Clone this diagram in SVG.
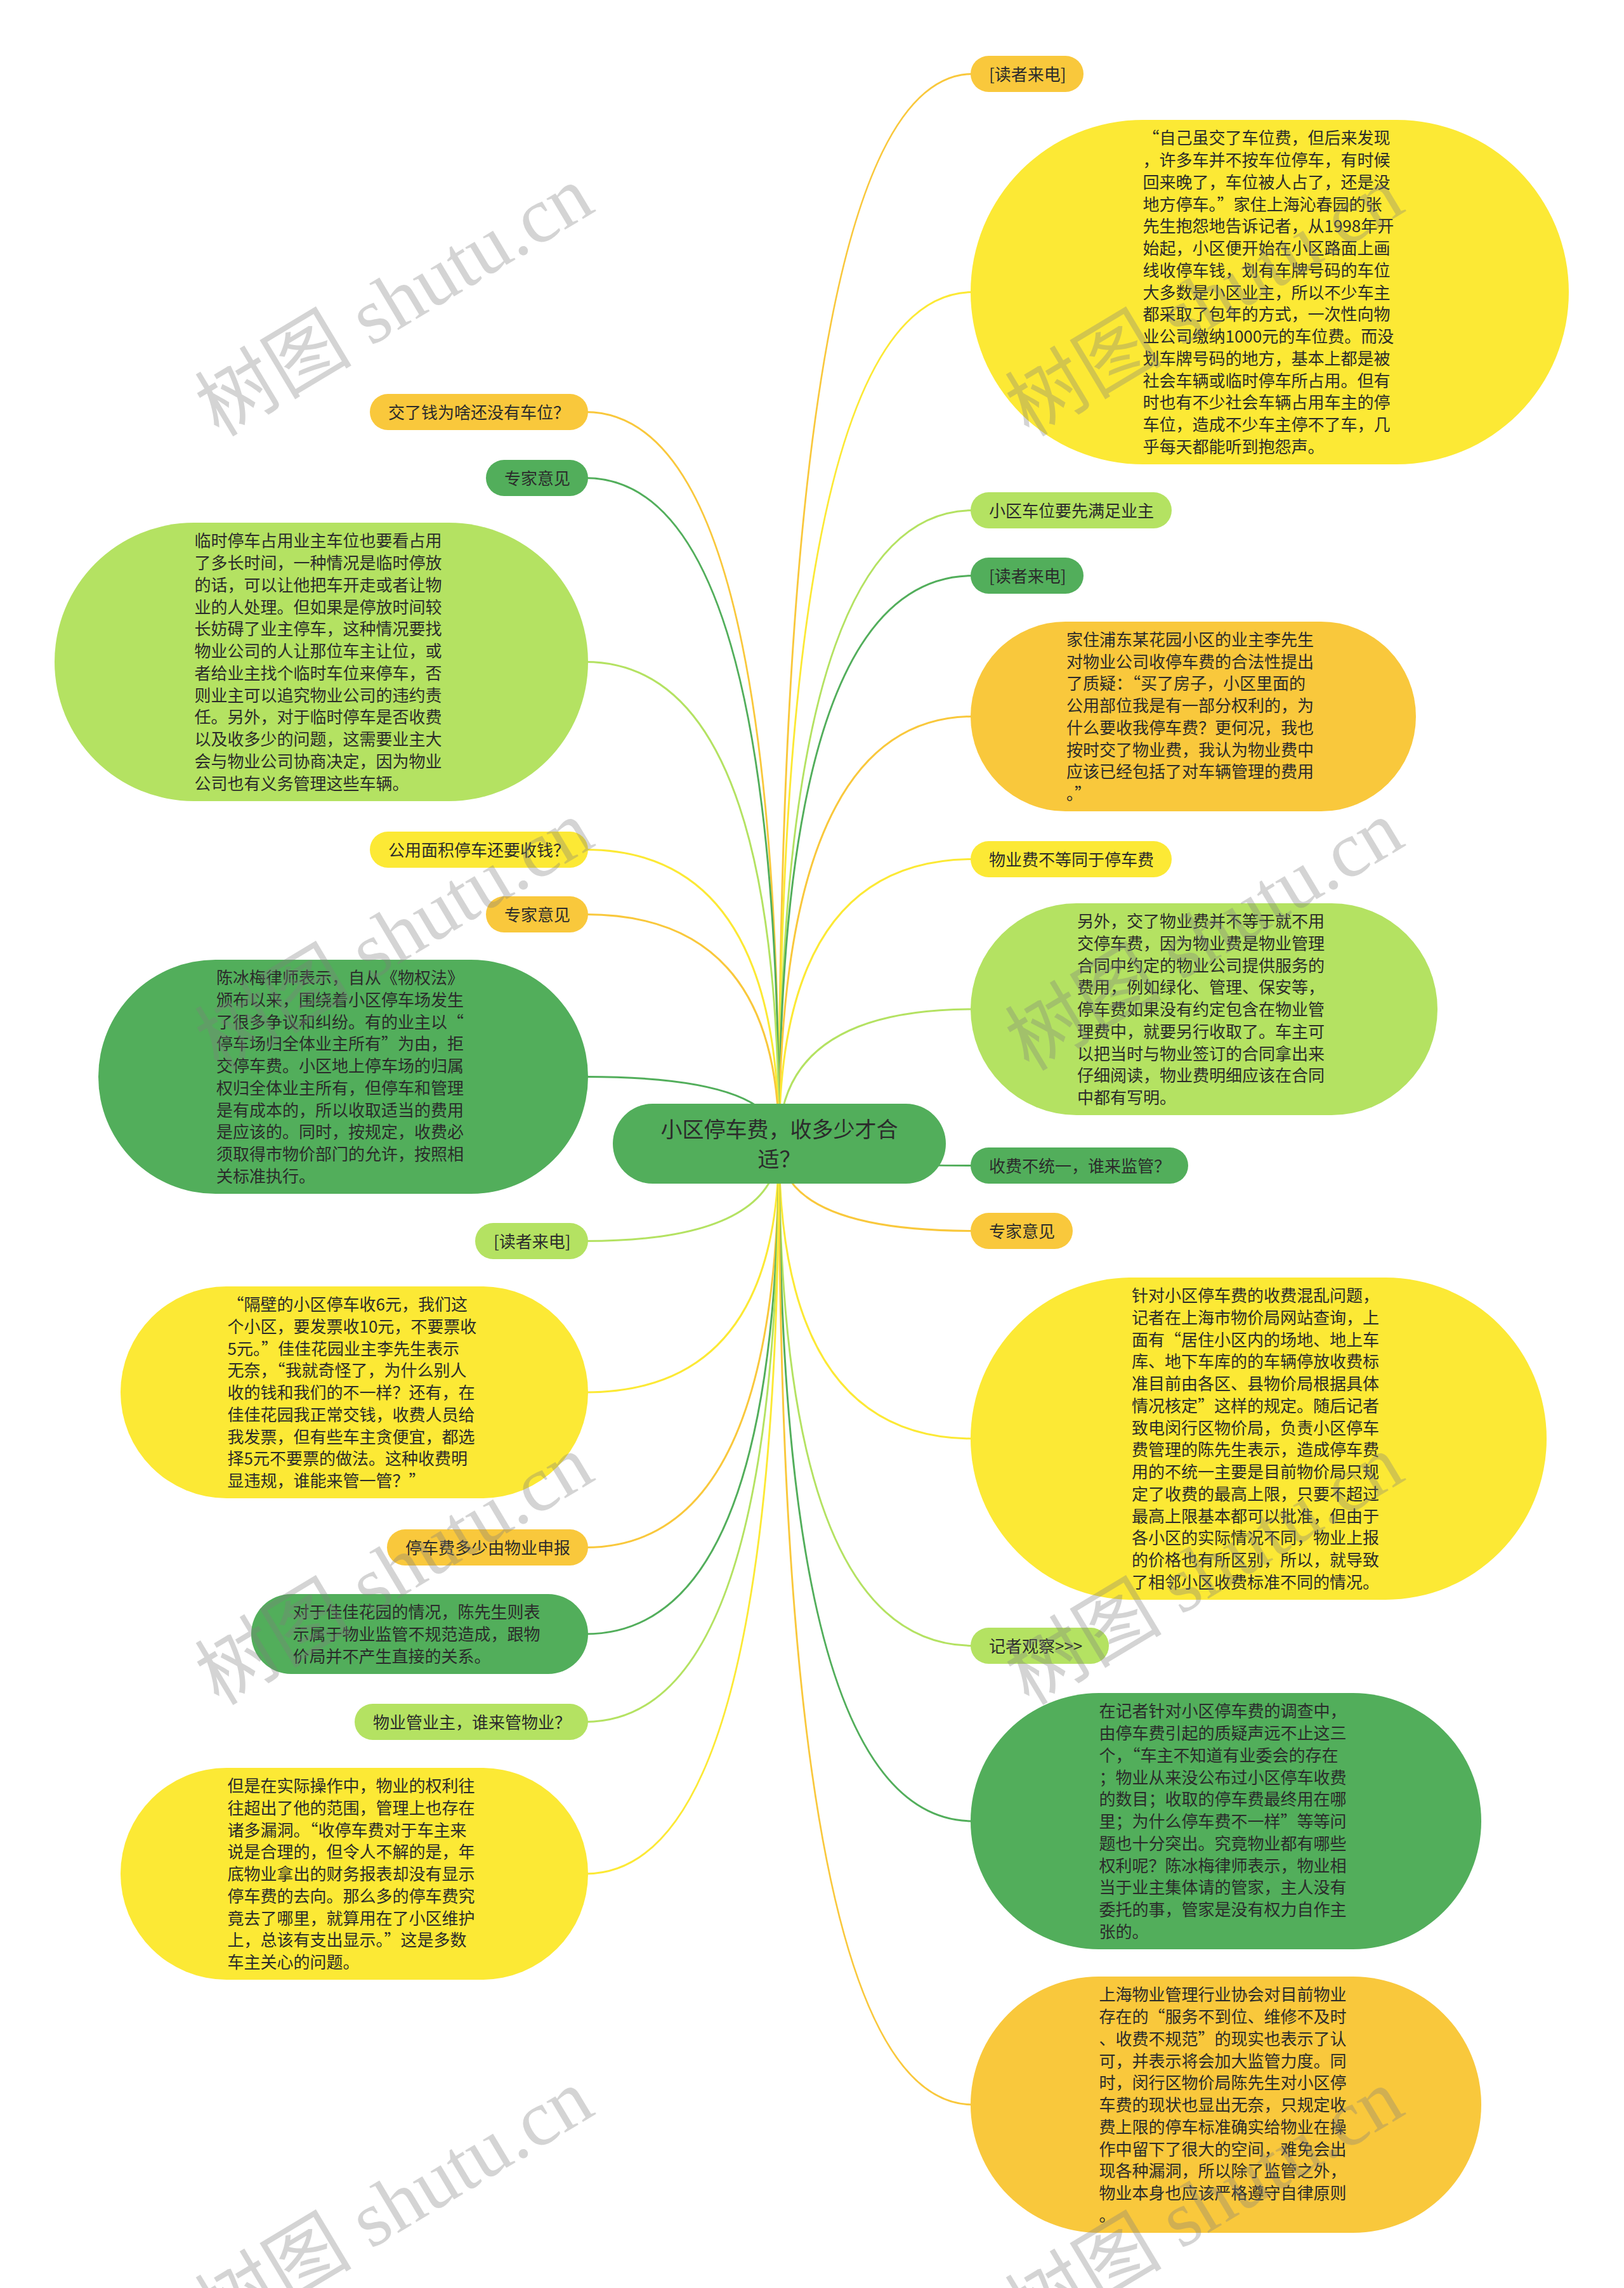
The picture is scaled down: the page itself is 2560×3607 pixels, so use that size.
<svg xmlns="http://www.w3.org/2000/svg" width="2560" height="3607" viewBox="0 0 2560 3607">
<style>
.t{font-family:"Noto Sans CJK SC","Noto Sans",sans-serif;font-size:26px;fill:#2b2b2b}
.ct{font-family:"Noto Sans CJK SC","Noto Sans",sans-serif;font-size:34px;fill:#2b2b2b}
.y{fill:#FCE935}
.o{fill:#F9C83C}
.lg{fill:#B4E262}
.g{fill:#52AE5B}
.c{fill:none;stroke-width:3}
.cy{stroke:#FCE935}
.co{stroke:#F9C83C}
.clg{stroke:#B4E262}
.cg{stroke:#52AE5B}
.wm{font-family:"Liberation Serif","Noto Sans CJK SC",serif;font-size:124px;fill:#7f7f7f;opacity:0.33}
</style>
<rect x="0" y="0" width="2560" height="3607" fill="#ffffff"/>
<g id="connectors">
<path class="c co" d="M1228 1803 Q1228 116.5 1534 116.5"/>
<path class="c cy" d="M1228 1803 Q1228 460.5 1534 460.5"/>
<path class="c clg" d="M1228 1803 Q1228 804.5 1534 804.5"/>
<path class="c cg" d="M1228 1803 Q1228 907.5 1534 907.5"/>
<path class="c co" d="M1228 1803 Q1228 1129.5 1534 1129.5"/>
<path class="c cy" d="M1228 1803 Q1228 1354.5 1534 1354.5"/>
<path class="c clg" d="M1228 1803 Q1228 1591 1534 1591"/>
<path class="c cg" d="M1228 1803 Q1228 1837.5 1534 1837.5"/>
<path class="c co" d="M1228 1803 Q1228 1940.5 1534 1940.5"/>
<path class="c cy" d="M1228 1803 Q1228 2268 1534 2268"/>
<path class="c clg" d="M1228 1803 Q1228 2594.5 1534 2594.5"/>
<path class="c cg" d="M1228 1803 Q1228 2871 1534 2871"/>
<path class="c co" d="M1228 1803 Q1228 3318 1534 3318"/>
<path class="c co" d="M1228 1803 Q1228 649.5 923 649.5"/>
<path class="c cg" d="M1228 1803 Q1228 753.5 923 753.5"/>
<path class="c clg" d="M1228 1803 Q1228 1043.5 923 1043.5"/>
<path class="c cy" d="M1228 1803 Q1228 1339.5 923 1339.5"/>
<path class="c co" d="M1228 1803 Q1228 1441.5 923 1441.5"/>
<path class="c cg" d="M1228 1803 Q1228 1697.5 923 1697.5"/>
<path class="c clg" d="M1228 1803 Q1228 1956.5 923 1956.5"/>
<path class="c cy" d="M1228 1803 Q1228 2195 923 2195"/>
<path class="c co" d="M1228 1803 Q1228 2439.5 923 2439.5"/>
<path class="c cg" d="M1228 1803 Q1228 2576 923 2576"/>
<path class="c clg" d="M1228 1803 Q1228 2714.5 923 2714.5"/>
<path class="c cy" d="M1228 1803 Q1228 2954 923 2954"/>
</g>
<g id="root">
<rect class="g" x="966" y="1740" width="525" height="126" rx="63"/>
<text class="ct" text-anchor="middle"><tspan x="1228.5" y="1793">小区停车费，收多少才合</tspan><tspan x="1228.5" y="1840">适？</tspan></text>
</g>
<g id="n1">
<rect class="o" x="1530" y="88" width="178" height="57" rx="28.5"/>
<text class="t" x="1559" y="126.5">[读者来电]</text>
</g>
<g id="n2">
<rect class="y" x="1530" y="189" width="943" height="543" rx="271.5"/>
<text class="t"><tspan x="1801.5" y="227.25">“自己虽交了车位费，但后来发现</tspan><tspan x="1801.5" dy="34.75">，许多车并不按车位停车，有时候</tspan><tspan x="1801.5" dy="34.75">回来晚了，车位被人占了，还是没</tspan><tspan x="1801.5" dy="34.75">地方停车。”家住上海沁春园的张</tspan><tspan x="1801.5" dy="34.75">先生抱怨地告诉记者，从1998年开</tspan><tspan x="1801.5" dy="34.75">始起，小区便开始在小区路面上画</tspan><tspan x="1801.5" dy="34.75">线收停车钱，划有车牌号码的车位</tspan><tspan x="1801.5" dy="34.75">大多数是小区业主，所以不少车主</tspan><tspan x="1801.5" dy="34.75">都采取了包年的方式，一次性向物</tspan><tspan x="1801.5" dy="34.75">业公司缴纳1000元的车位费。而没</tspan><tspan x="1801.5" dy="34.75">划车牌号码的地方，基本上都是被</tspan><tspan x="1801.5" dy="34.75">社会车辆或临时停车所占用。但有</tspan><tspan x="1801.5" dy="34.75">时也有不少社会车辆占用车主的停</tspan><tspan x="1801.5" dy="34.75">车位，造成不少车主停不了车，几</tspan><tspan x="1801.5" dy="34.75">乎每天都能听到抱怨声。</tspan></text>
</g>
<g id="n3">
<rect class="lg" x="1530" y="776" width="317" height="57" rx="28.5"/>
<text class="t" x="1559" y="814.5">小区车位要先满足业主</text>
</g>
<g id="n4">
<rect class="g" x="1530" y="879" width="178" height="57" rx="28.5"/>
<text class="t" x="1559" y="917.5">[读者来电]</text>
</g>
<g id="n5">
<rect class="o" x="1530" y="980" width="702" height="299" rx="149.5"/>
<text class="t"><tspan x="1681" y="1017.9">家住浦东某花园小区的业主李先生</tspan><tspan x="1681" dy="34.75">对物业公司收停车费的合法性提出</tspan><tspan x="1681" dy="34.75">了质疑：“买了房子，小区里面的</tspan><tspan x="1681" dy="34.75">公用部位我是有一部分权利的，为</tspan><tspan x="1681" dy="34.75">什么要收我停车费？更何况，我也</tspan><tspan x="1681" dy="34.75">按时交了物业费，我认为物业费中</tspan><tspan x="1681" dy="34.75">应该已经包括了对车辆管理的费用</tspan><tspan x="1681" dy="34.75">。”</tspan></text>
</g>
<g id="n6">
<rect class="y" x="1530" y="1326" width="317" height="57" rx="28.5"/>
<text class="t" x="1559" y="1364.5">物业费不等同于停车费</text>
</g>
<g id="n7">
<rect class="lg" x="1530" y="1424" width="736" height="334" rx="167"/>
<text class="t"><tspan x="1698" y="1462">另外，交了物业费并不等于就不用</tspan><tspan x="1698" dy="34.75">交停车费，因为物业费是物业管理</tspan><tspan x="1698" dy="34.75">合同中约定的物业公司提供服务的</tspan><tspan x="1698" dy="34.75">费用，例如绿化、管理、保安等，</tspan><tspan x="1698" dy="34.75">停车费如果没有约定包含在物业管</tspan><tspan x="1698" dy="34.75">理费中，就要另行收取了。车主可</tspan><tspan x="1698" dy="34.75">以把当时与物业签订的合同拿出来</tspan><tspan x="1698" dy="34.75">仔细阅读，物业费明细应该在合同</tspan><tspan x="1698" dy="34.75">中都有写明。</tspan></text>
</g>
<g id="n8">
<rect class="g" x="1530" y="1809" width="343" height="57" rx="28.5"/>
<text class="t" x="1559" y="1847.5">收费不统一，谁来监管？</text>
</g>
<g id="n9">
<rect class="o" x="1530" y="1912" width="161" height="57" rx="28.5"/>
<text class="t" x="1559" y="1950.5">专家意见</text>
</g>
<g id="n10">
<rect class="y" x="1530" y="2014" width="908" height="508" rx="254"/>
<text class="t"><tspan x="1784" y="2052.1">针对小区停车费的收费混乱问题，</tspan><tspan x="1784" dy="34.75">记者在上海市物价局网站查询，上</tspan><tspan x="1784" dy="34.75">面有“居住小区内的场地、地上车</tspan><tspan x="1784" dy="34.75">库、地下车库的的车辆停放收费标</tspan><tspan x="1784" dy="34.75">准目前由各区、县物价局根据具体</tspan><tspan x="1784" dy="34.75">情况核定”这样的规定。随后记者</tspan><tspan x="1784" dy="34.75">致电闵行区物价局，负责小区停车</tspan><tspan x="1784" dy="34.75">费管理的陈先生表示，造成停车费</tspan><tspan x="1784" dy="34.75">用的不统一主要是目前物价局只规</tspan><tspan x="1784" dy="34.75">定了收费的最高上限，只要不超过</tspan><tspan x="1784" dy="34.75">最高上限基本都可以批准，但由于</tspan><tspan x="1784" dy="34.75">各小区的实际情况不同，物业上报</tspan><tspan x="1784" dy="34.75">的价格也有所区别，所以，就导致</tspan><tspan x="1784" dy="34.75">了相邻小区收费标准不同的情况。</tspan></text>
</g>
<g id="n11">
<rect class="lg" x="1530" y="2566" width="218" height="57" rx="28.5"/>
<text class="t" x="1559" y="2604.5">记者观察&gt;&gt;&gt;</text>
</g>
<g id="n12">
<rect class="g" x="1530" y="2669" width="805" height="404" rx="202"/>
<text class="t"><tspan x="1732.5" y="2707.25">在记者针对小区停车费的调查中，</tspan><tspan x="1732.5" dy="34.75">由停车费引起的质疑声远不止这三</tspan><tspan x="1732.5" dy="34.75">个，“车主不知道有业委会的存在</tspan><tspan x="1732.5" dy="34.75">；物业从来没公布过小区停车收费</tspan><tspan x="1732.5" dy="34.75">的数目；收取的停车费最终用在哪</tspan><tspan x="1732.5" dy="34.75">里；为什么停车费不一样”等等问</tspan><tspan x="1732.5" dy="34.75">题也十分突出。究竟物业都有哪些</tspan><tspan x="1732.5" dy="34.75">权利呢？陈冰梅律师表示，物业相</tspan><tspan x="1732.5" dy="34.75">当于业主集体请的管家，主人没有</tspan><tspan x="1732.5" dy="34.75">委托的事，管家是没有权力自作主</tspan><tspan x="1732.5" dy="34.75">张的。</tspan></text>
</g>
<g id="n13">
<rect class="o" x="1530" y="3116" width="805" height="404" rx="202"/>
<text class="t"><tspan x="1732.5" y="3154.25">上海物业管理行业协会对目前物业</tspan><tspan x="1732.5" dy="34.75">存在的“服务不到位、维修不及时</tspan><tspan x="1732.5" dy="34.75">、收费不规范”的现实也表示了认</tspan><tspan x="1732.5" dy="34.75">可，并表示将会加大监管力度。同</tspan><tspan x="1732.5" dy="34.75">时，闵行区物价局陈先生对小区停</tspan><tspan x="1732.5" dy="34.75">车费的现状也显出无奈，只规定收</tspan><tspan x="1732.5" dy="34.75">费上限的停车标准确实给物业在操</tspan><tspan x="1732.5" dy="34.75">作中留下了很大的空间，难免会出</tspan><tspan x="1732.5" dy="34.75">现各种漏洞，所以除了监管之外，</tspan><tspan x="1732.5" dy="34.75">物业本身也应该严格遵守自律原则</tspan><tspan x="1732.5" dy="34.75">。</tspan></text>
</g>
<g id="n14">
<rect class="o" x="583" y="621" width="344" height="57" rx="28.5"/>
<text class="t" x="612" y="659.5">交了钱为啥还没有车位？</text>
</g>
<g id="n15">
<rect class="g" x="766" y="725" width="161" height="57" rx="28.5"/>
<text class="t" x="795" y="763.5">专家意见</text>
</g>
<g id="n16">
<rect class="lg" x="86" y="824" width="841" height="439" rx="219.5"/>
<text class="t"><tspan x="306.5" y="862.4">临时停车占用业主车位也要看占用</tspan><tspan x="306.5" dy="34.75">了多长时间，一种情况是临时停放</tspan><tspan x="306.5" dy="34.75">的话，可以让他把车开走或者让物</tspan><tspan x="306.5" dy="34.75">业的人处理。但如果是停放时间较</tspan><tspan x="306.5" dy="34.75">长妨碍了业主停车，这种情况要找</tspan><tspan x="306.5" dy="34.75">物业公司的人让那位车主让位，或</tspan><tspan x="306.5" dy="34.75">者给业主找个临时车位来停车，否</tspan><tspan x="306.5" dy="34.75">则业主可以追究物业公司的违约责</tspan><tspan x="306.5" dy="34.75">任。另外，对于临时停车是否收费</tspan><tspan x="306.5" dy="34.75">以及收多少的问题，这需要业主大</tspan><tspan x="306.5" dy="34.75">会与物业公司协商决定，因为物业</tspan><tspan x="306.5" dy="34.75">公司也有义务管理这些车辆。</tspan></text>
</g>
<g id="n17">
<rect class="y" x="583" y="1311" width="344" height="57" rx="28.5"/>
<text class="t" x="612" y="1349.5">公用面积停车还要收钱？</text>
</g>
<g id="n18">
<rect class="o" x="766" y="1413" width="161" height="57" rx="28.5"/>
<text class="t" x="795" y="1451.5">专家意见</text>
</g>
<g id="n19">
<rect class="g" x="155" y="1513" width="772" height="369" rx="184.5"/>
<text class="t"><tspan x="341" y="1551.1">陈冰梅律师表示，自从《物权法》</tspan><tspan x="341" dy="34.75">颁布以来，围绕着小区停车场发生</tspan><tspan x="341" dy="34.75">了很多争议和纠纷。有的业主以“</tspan><tspan x="341" dy="34.75">停车场归全体业主所有”为由，拒</tspan><tspan x="341" dy="34.75">交停车费。小区地上停车场的归属</tspan><tspan x="341" dy="34.75">权归全体业主所有，但停车和管理</tspan><tspan x="341" dy="34.75">是有成本的，所以收取适当的费用</tspan><tspan x="341" dy="34.75">是应该的。同时，按规定，收费必</tspan><tspan x="341" dy="34.75">须取得市物价部门的允许，按照相</tspan><tspan x="341" dy="34.75">关标准执行。</tspan></text>
</g>
<g id="n20">
<rect class="lg" x="749" y="1928" width="178" height="57" rx="28.5"/>
<text class="t" x="778" y="1966.5">[读者来电]</text>
</g>
<g id="n21">
<rect class="y" x="190" y="2028" width="737" height="334" rx="167"/>
<text class="t"><tspan x="358.5" y="2066">“隔壁的小区停车收6元，我们这</tspan><tspan x="358.5" dy="34.75">个小区，要发票收10元，不要票收</tspan><tspan x="358.5" dy="34.75">5元。”佳佳花园业主李先生表示</tspan><tspan x="358.5" dy="34.75">无奈，“我就奇怪了，为什么别人</tspan><tspan x="358.5" dy="34.75">收的钱和我们的不一样？还有，在</tspan><tspan x="358.5" dy="34.75">佳佳花园我正常交钱，收费人员给</tspan><tspan x="358.5" dy="34.75">我发票，但有些车主贪便宜，都选</tspan><tspan x="358.5" dy="34.75">择5元不要票的做法。这种收费明</tspan><tspan x="358.5" dy="34.75">显违规，谁能来管一管？”</tspan></text>
</g>
<g id="n22">
<rect class="o" x="610" y="2411" width="317" height="57" rx="28.5"/>
<text class="t" x="639" y="2449.5">停车费多少由物业申报</text>
</g>
<g id="n23">
<rect class="g" x="396" y="2513" width="531" height="126" rx="63"/>
<text class="t"><tspan x="461.5" y="2551.25">对于佳佳花园的情况，陈先生则表</tspan><tspan x="461.5" dy="34.75">示属于物业监管不规范造成，跟物</tspan><tspan x="461.5" dy="34.75">价局并不产生直接的关系。</tspan></text>
</g>
<g id="n24">
<rect class="lg" x="559" y="2686" width="368" height="57" rx="28.5"/>
<text class="t" x="588" y="2724.5">物业管业主，谁来管物业？</text>
</g>
<g id="n25">
<rect class="y" x="190" y="2787" width="737" height="334" rx="167"/>
<text class="t"><tspan x="358.5" y="2825">但是在实际操作中，物业的权利往</tspan><tspan x="358.5" dy="34.75">往超出了他的范围，管理上也存在</tspan><tspan x="358.5" dy="34.75">诸多漏洞。“收停车费对于车主来</tspan><tspan x="358.5" dy="34.75">说是合理的，但令人不解的是，年</tspan><tspan x="358.5" dy="34.75">底物业拿出的财务报表却没有显示</tspan><tspan x="358.5" dy="34.75">停车费的去向。那么多的停车费究</tspan><tspan x="358.5" dy="34.75">竟去了哪里，就算用在了小区维护</tspan><tspan x="358.5" dy="34.75">上，总该有支出显示。”这是多数</tspan><tspan x="358.5" dy="34.75">车主关心的问题。</tspan></text>
</g>
<g id="watermark">
<text class="wm" x="345" y="690" transform="rotate(-31 345 690)">树图 shutu.cn</text>
<text class="wm" x="1622" y="690" transform="rotate(-31 1622 690)">树图 shutu.cn</text>
<text class="wm" x="345" y="1690" transform="rotate(-31 345 1690)">树图 shutu.cn</text>
<text class="wm" x="1622" y="1690" transform="rotate(-31 1622 1690)">树图 shutu.cn</text>
<text class="wm" x="345" y="2690" transform="rotate(-31 345 2690)">树图 shutu.cn</text>
<text class="wm" x="1622" y="2690" transform="rotate(-31 1622 2690)">树图 shutu.cn</text>
<text class="wm" x="345" y="3690" transform="rotate(-31 345 3690)">树图 shutu.cn</text>
<text class="wm" x="1622" y="3690" transform="rotate(-31 1622 3690)">树图 shutu.cn</text>
</g>
</svg>
